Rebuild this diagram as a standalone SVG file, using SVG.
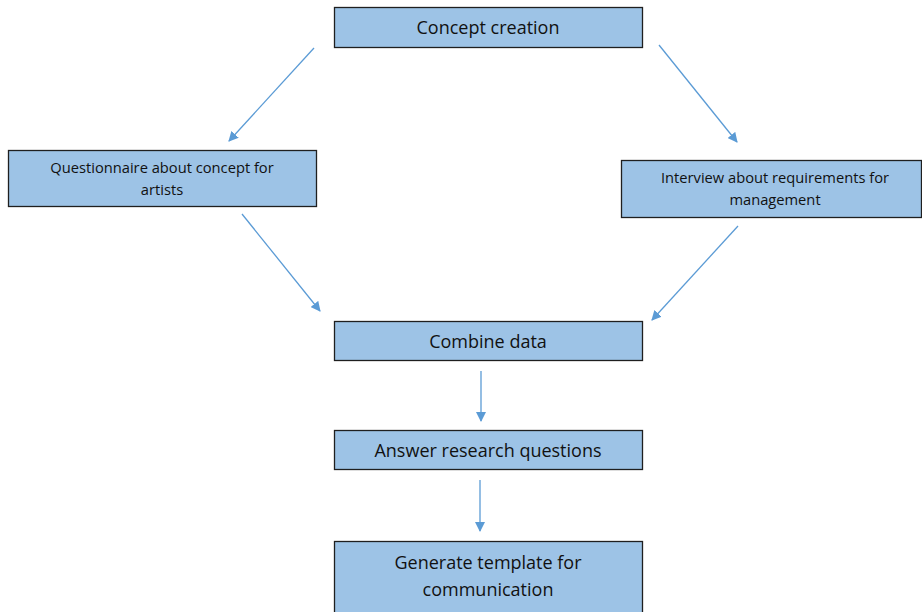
<svg xmlns="http://www.w3.org/2000/svg" width="922" height="612" viewBox="0 0 922 612">
<style>
.box{fill:#9DC3E6;stroke:#1f1f1f;stroke-width:1.3}
.t{font-family:"Open Sans","Liberation Sans",sans-serif;fill:#111;text-anchor:middle}
.big{font-size:18px}
.small{font-size:14.7px}
.c{stroke:#5B9BD5;stroke-width:1.3;fill:none;marker-end:url(#ah)}
</style>
<defs>
<marker id="ah" viewBox="0 0 10 10" refX="9" refY="5" markerWidth="10" markerHeight="10" markerUnits="userSpaceOnUse" orient="auto">
<path d="M0,0 L10,5 L0,10 z" fill="#5B9BD5"/>
</marker>
</defs>
<rect width="922" height="612" fill="#fff"/>
<g id="connectors">
<line class="c" x1="314" y1="48" x2="229" y2="141"/>
<line class="c" x1="659" y1="45" x2="737" y2="142"/>
<line class="c" x1="242" y1="214" x2="320" y2="311"/>
<line class="c" x1="738" y1="226" x2="652" y2="320"/>
<line class="c" x1="481" y1="371" x2="481" y2="421"/>
<line class="c" x1="480" y1="480" x2="480" y2="531"/>
</g>
<g id="concept">
<rect class="box" x="334.5" y="7.5" width="308" height="40"/>
<text class="t big" x="488" y="33.5">Concept creation</text>
</g>
<g id="questionnaire">
<rect class="box" x="8.5" y="150.5" width="308" height="56"/>
<text class="t small" x="162" y="172.5">Questionnaire about concept for</text>
<text class="t small" x="162" y="194.5">artists</text>
</g>
<g id="interview">
<rect class="box" x="621.5" y="160.5" width="300" height="57"/>
<text class="t small" x="775" y="182.5">Interview about requirements for</text>
<text class="t small" x="775" y="204.5">management</text>
</g>
<g id="combine">
<rect class="box" x="334.5" y="321.5" width="308" height="39"/>
<text class="t big" x="488" y="347.5">Combine data</text>
</g>
<g id="answer">
<rect class="box" x="334.5" y="430.5" width="308" height="39"/>
<text class="t big" x="488" y="456.5">Answer research questions</text>
</g>
<g id="generate">
<rect class="box" x="334.5" y="541.5" width="308" height="75"/>
<text class="t big" x="488" y="568.5">Generate template for</text>
<text class="t big" x="488" y="595.5">communication</text>
</g>
</svg>
